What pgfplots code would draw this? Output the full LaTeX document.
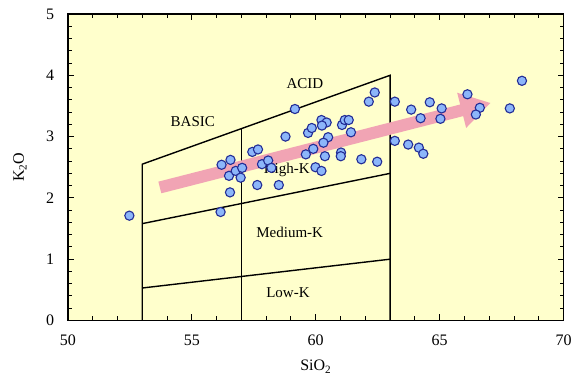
\documentclass[border=0pt]{standalone}
\usepackage{fontspec}
\setmainfont{Liberation Serif}
\usepackage{pgfplots}
\usepackage{pgfplotstable}
\pgfplotsset{compat=1.18}
\usetikzlibrary{arrows.meta}

\definecolor{bgyellow}{RGB}{255,255,204}
\definecolor{ptfill}{RGB}{140,182,250}
\definecolor{ptedge}{RGB}{35,45,150}
\definecolor{trend}{RGB}{241,164,180}

% SiO2 (wt%) and K2O (wt%) of the samples
\pgfplotstableread{
sio2  k2o
52.48 1.71
56.16 1.77
56.54 2.09
56.20 2.54
56.56 2.62
56.50 2.36
56.77 2.44
57.03 2.49
56.97 2.33
57.44 2.75
57.67 2.79
57.64 2.21
58.51 2.21
57.83 2.55
58.08 2.61
58.21 2.49
58.78 3.00
59.16 3.45
59.69 3.06
59.84 3.14
59.60 2.71
59.90 2.80
59.99 2.50
60.23 2.44
60.23 3.27
60.44 3.23
60.25 3.18
60.50 2.99
60.31 2.90
60.37 2.68
61.02 2.74
61.01 2.68
61.06 3.19
61.17 3.27
61.33 3.27
61.42 3.07
61.84 2.63
62.48 2.59
62.14 3.57
62.38 3.72
63.19 3.57
63.19 2.93
63.73 2.87
63.85 3.44
64.16 2.82
64.34 2.72
64.23 3.30
64.60 3.56
65.08 3.46
65.03 3.29
66.12 3.69
66.62 3.47
66.46 3.36
67.83 3.46
68.32 3.91
}\samples

\begin{document}
\begin{tikzpicture}[font=\fontsize{16pt}{18pt}\selectfont]
\begin{axis}[
  scale only axis,
  width=495.7pt, height=306.5pt,
  xmin=50, xmax=70, ymin=0, ymax=5,
  xtick={50,55,60,65,70}, ytick={0,1,2,3,4,5},
  minor x tick num=4, minor y tick num=4,
  tick align=inside,
  major tick length=6pt, minor tick length=4pt,
  tick style={black, line width=1pt},
  axis line style={black, line width=1.7pt},
  axis background/.style={fill=bgyellow},
  /pgf/number format/assume math mode=true,
  xticklabel style={anchor=base, yshift=-25pt},
  yticklabel style={anchor=east, inner sep=0pt, xshift=-13.5pt},
  xlabel={SiO\textsubscript{2}},
  ylabel={K\textsubscript{2}O},
  xlabel style={at={(axis description cs:0.5,0)}, anchor=base, yshift=-50pt},
  ylabel style={at={(axis description cs:-0.0968,0.5)}, anchor=center},
  clip=false,
]
  % potassium series field boundaries
  \addplot[black, line width=1.4pt] coordinates {(53,0) (53,2.55) (63,4.0) (63,0)};
  \addplot[black, line width=1.4pt] coordinates {(53,1.58) (63,2.40)};
  \addplot[black, line width=1.4pt] coordinates {(53,0.53) (63,1.00)};
  \addplot[black, line width=1.4pt] coordinates {(57,0) (57,3.13)};

  % trend arrow
  \addplot[trend, line width=12pt,
    -{Triangle[length=30pt, width=34pt]}]
    coordinates {(53.71,2.17) (67.06,3.55)};

  % samples
  \addplot[only marks, mark=*, mark size=4.6pt,
    mark options={fill=ptfill, draw=ptedge, line width=1.1pt}]
    table[x=sio2, y=k2o] {\samples};

  \node[font=\fontsize{15pt}{17pt}\selectfont] at (axis cs:59.56,3.86) {ACID};
  \node[font=\fontsize{15pt}{17pt}\selectfont] at (axis cs:55.04,3.24) {BASIC};
  \node[font=\fontsize{15pt}{17pt}\selectfont] at (axis cs:58.83,2.45) {High-K};
  \node[font=\fontsize{15pt}{17pt}\selectfont] at (axis cs:58.95,1.43) {Medium-K};
  \node[font=\fontsize{15pt}{17pt}\selectfont] at (axis cs:58.88,0.45) {Low-K};
\end{axis}
\pgfresetboundingbox
\path[use as bounding box]
  ([shift={(-67.9pt,-54.5pt)}]current axis.south west)
  rectangle ([shift={(7.4pt,14pt)}]current axis.north east);
\end{tikzpicture}
\end{document}
